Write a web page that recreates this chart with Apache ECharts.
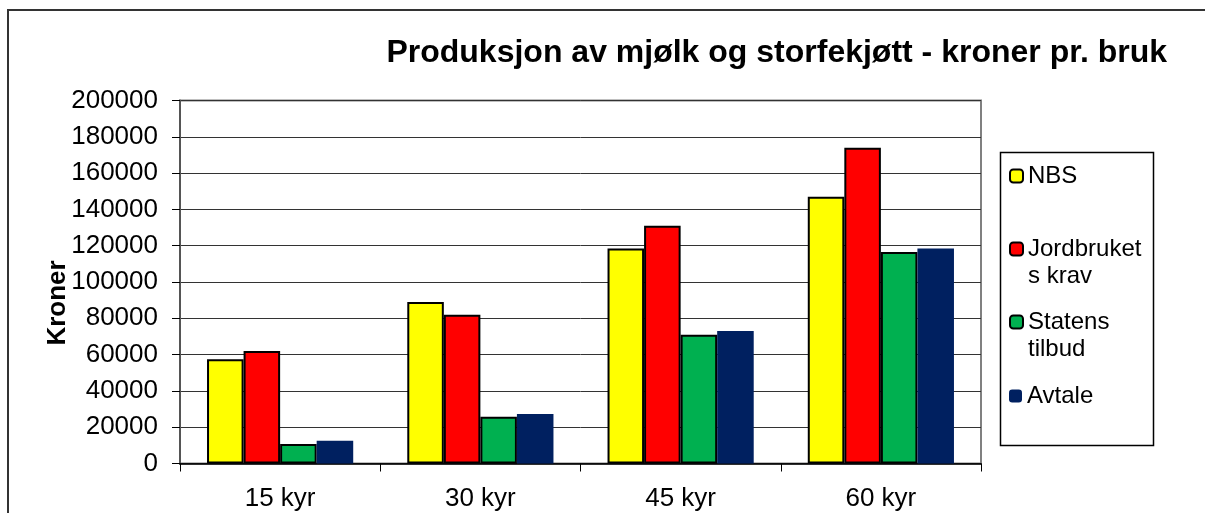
<!DOCTYPE html>
<html>
<head>
<meta charset="utf-8">
<script src="https://cdn.jsdelivr.net/npm/echarts@6/dist/echarts.min.js"></script>
<style>
  html, body { margin: 0; padding: 0; background: #fff; }
  #main { width: 1205px; height: 513px; }
</style>
</head>
<body>
<div id="main"></div>
<script>
  'use strict'

  // data
  var categories = ['15 kyr', '30 kyr', '45 kyr', '60 kyr'];
  var nbs = [57500, 89000, 118500, 147000];
  var jordbruket = [62000, 82000, 131000, 174000];
  var statens = [10800, 25800, 71000, 116500];
  var avtale = [12500, 27300, 73000, 118500];
  var seriesNames = ['NBS', 'Jordbruket\ns krav', 'Statens\ntilbud', 'Avtale'];

  var font = "'Liberation Sans', Arial, sans-serif";
  var colors = ['#FFFF00', '#FF0000', '#00B050', '#002060'];

  function barSeries(name, data, color, border) {
    return {
      name: name,
      type: 'bar',
      data: data,
      barGap: '0%',
      barCategoryGap: '27%',
      itemStyle: {
        color: color,
        borderColor: border ? '#000' : color,
        borderWidth: border ? 2 : 0
      }
    };
  }

  // one legend per entry so each sits where the reference puts it;
  // only the first line goes with the icon, the wrapped rest is a graphic text
  function legendAt(name, centerY) {
    return {
      data: [name],
      orient: 'vertical',
      left: 1009,
      top: centerY - 13.5,
      padding: 0,
      itemWidth: 13,
      itemHeight: 13,
      selectedMode: false,
      formatter: function (n) { return n.split('\n')[0]; },
      textStyle: {
        fontFamily: font,
        fontSize: 24,
        lineHeight: 27,
        color: '#000'
      }
    };
  }

  function wrapLine(name, centerY) {
    return {
      type: 'text',
      x: 1028,
      y: centerY,
      silent: true,
      style: {
        text: name.split('\n')[1],
        fontFamily: font,
        fontSize: 24,
        fill: '#000',
        verticalAlign: 'middle'
      }
    };
  }

  var chart = echarts.init(document.getElementById('main'));
  var option = {
    backgroundColor: '#fff',
    animation: false,
    title: {
      text: 'Produksjon av mjølk og storfekjøtt - kroner pr. bruk',
      right: 38,
      top: 37,
      padding: 0,
      textStyle: {
        fontFamily: font,
        fontSize: 32,
        fontWeight: 'bold',
        color: '#000'
      }
    },
    legend: [
      legendAt(seriesNames[0], 176),
      legendAt(seriesNames[1], 249),
      legendAt(seriesNames[2], 322),
      legendAt(seriesNames[3], 396)
    ],
    grid: {
      left: 180,
      right: 224,
      top: 100.5,
      bottom: 49.5,
      show: true,
      borderColor: '#808080',
      borderWidth: 2
    },
    xAxis: {
      type: 'category',
      data: categories,
      axisLine: { lineStyle: { color: '#000', width: 1.5 } },
      axisTick: { show: true, length: 8, lineStyle: { color: '#000' } },
      axisLabel: {
        fontFamily: font,
        fontSize: 26,
        color: '#000',
        margin: 22
      }
    },
    yAxis: {
      type: 'value',
      min: 0,
      max: 200000,
      interval: 20000,
      axisLine: { show: true, lineStyle: { color: '#555', width: 2 } },
      axisTick: { show: true, length: 8, lineStyle: { color: '#000' } },
      axisLabel: {
        fontFamily: font,
        fontSize: 26,
        color: '#000',
        margin: 22,
        formatter: function (v) { return String(v); }
      },
      splitLine: { lineStyle: { color: '#333', width: 1 } }
    },
    graphic: [
      {
        type: 'rect',
        shape: { x: 8, y: 10, width: 1300, height: 700 },
        style: { fill: 'none', stroke: '#333', lineWidth: 2 },
        silent: true
      },
      {
        type: 'rect',
        shape: { x: 1000.5, y: 152.5, width: 153, height: 293 },
        style: { fill: 'none', stroke: '#000', lineWidth: 1.5 },
        silent: true
      },
      wrapLine(seriesNames[1], 276),
      wrapLine(seriesNames[2], 349),
      {
        type: 'text',
        x: 58,
        y: 303,
        rotation: Math.PI / 2,
        style: {
          text: 'Kroner',
          fontFamily: font,
          fontSize: 26,
          fontWeight: 'bold',
          fill: '#000',
          align: 'center',
          verticalAlign: 'middle'
        },
        silent: true
      }
    ],
    series: [
      barSeries(seriesNames[0], nbs, colors[0], true),
      barSeries(seriesNames[1], jordbruket, colors[1], true),
      barSeries(seriesNames[2], statens, colors[2], true),
      barSeries(seriesNames[3], avtale, colors[3], false)
    ]
  };
  chart.setOption(option);
</script>
</body>
</html>
